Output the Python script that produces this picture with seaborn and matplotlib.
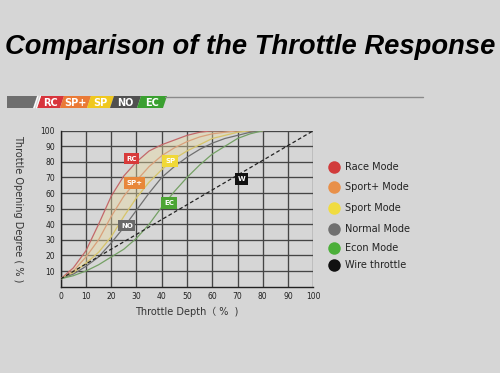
import numpy as np
import pandas as pd
import matplotlib
matplotlib.use("Agg")
import matplotlib.pyplot as plt
from matplotlib.patches import Polygon
import seaborn as sns

# ---------------- data ----------------
throttle_depth = [0, 5, 10, 15, 20, 25, 30, 35, 40, 45, 50, 55, 60, 65, 70, 75, 80]
race = [5, 12, 23, 40, 58, 71, 80, 87, 91, 94, 97, 99, 100, 100, 100, 100, 100]
sport_plus = [5, 10, 19, 30, 45, 58, 68, 77, 84, 89, 93, 96, 98, 99, 100, 100, 100]
sport = [5, 9, 15, 22, 32, 45, 57, 67, 75, 82, 87, 91, 95, 97, 99, 100, 100]
normal = [5, 8, 13, 19, 28, 38, 49, 60, 70, 77, 83, 88, 92, 95, 97, 99, 100]
econ = [5, 7, 10, 14, 19, 24, 31, 40, 51, 61, 70, 78, 85, 90, 95, 98, 100]
wire_x = [0, 100]
wire_y = [5, 100]

modes = ["RC", "SP+", "SP", "NO", "EC"]
mode_curves = [race, sport_plus, sport, normal, econ]
legend_labels = ["Race Mode", "Sport+ Mode", "Sport Mode", "Normal Mode", "Econ Mode", "Wire throttle"]
badge_labels = ["RC", "SP+", "SP", "NO", "EC", "W"]
badge_x = [28, 29.3, 43.3, 26.2, 42.9, 71.6]
badge_y = [82, 66.5, 80.5, 39, 53.6, 69]
x_ticks = [0, 10, 20, 30, 40, 50, 60, 70, 80, 90, 100]
y_ticks = [10, 20, 30, 40, 50, 60, 70, 80, 90, 100]

# ---------------- style ----------------
BG = "#d6d6d6"
line_colors = {"RC": "#c46868", "SP+": "#d9a07a", "SP": "#d6c46a", "NO": "#707070", "EC": "#74a064"}
badge_colors = ["#d83a3a", "#e8873a", "#f0d838", "#6a6a6a", "#4ca534", "#111111"]
legend_colors = ["#d13b3b", "#e8904a", "#f0dc40", "#707070", "#4caf3a", "#111111"]

sns.set_theme(style="white")
plt.rcParams["font.family"] = ["DejaVu Sans", "Noto Sans CJK SC"]

fig = plt.figure(figsize=(5.0, 3.73), dpi=100, facecolor=BG)
ax = fig.add_axes([60.7 / 500, 1 - 286.6 / 373, (313.3 - 60.7) / 500, (286.6 - 130.7) / 373])
ax.set_facecolor(BG)

df = pd.DataFrame({
    "depth": np.tile(throttle_depth, len(modes)),
    "opening": np.concatenate(mode_curves),
    "mode": np.repeat(modes, len(throttle_depth)),
})

ax.fill_between(throttle_depth, race, sport, color="#ecdca0", alpha=0.4, lw=0, zorder=1)
sns.lineplot(data=df, x="depth", y="opening", hue="mode", palette=line_colors,
             linewidth=0.9, legend=False, ax=ax, zorder=3)
sns.lineplot(x=wire_x, y=wire_y, color="#222222", linestyle=(0, (3, 2)), linewidth=0.9,
             ax=ax, zorder=3)

ax.set_xlim(0, 100)
ax.set_ylim(0, 100)
ax.set_xticks(x_ticks)
ax.set_yticks(y_ticks)
ax.grid(True, color="#454545", linewidth=0.95, zorder=0)
ax.set_axisbelow(True)
for s in ["top", "right"]:
    ax.spines[s].set_visible(False)
for s in ["left", "bottom"]:
    ax.spines[s].set_color("#222222")
    ax.spines[s].set_linewidth(1.0)
ax.tick_params(axis="both", labelsize=5.5, colors="#222222", length=2, width=0.6, pad=2)
ax.set_xlabel("Throttle Depth（ %  )", fontsize=7, color="#333333", labelpad=4,
              family=["DejaVu Sans", "Noto Sans CJK SC"])
ax.set_ylabel("Throttle Opening Degree ( % )", fontsize=7, color="#333333",
              rotation=270, labelpad=10)
ax.yaxis.set_label_coords(-0.19, 0.5)

for lab, bx, by, bc in zip(badge_labels, badge_x, badge_y, badge_colors):
    ax.text(bx, by, lab, fontsize=5, color="white", ha="center", va="center",
            fontweight="bold", zorder=5,
            bbox=dict(boxstyle="square,pad=0.38", fc=bc, ec="none"))

# ---------------- overlay (title, header band, legend) ----------------
ov = fig.add_axes([0, 0, 1, 1], facecolor="none")
ov.set_xlim(0, 500)
ov.set_ylim(373, 0)
ov.axis("off")

ov.text(250, 47, "Comparison of the Throttle Response", fontsize=19.7, fontweight="heavy",
        style="italic", ha="center", va="center", color="black", family="Liberation Sans")

# header band
ov.plot([165, 423], [96.5, 96.5], color="#8a8a8a", lw=1.0)
ov.add_patch(Polygon([[7, 96], [37, 96], [33, 108], [7, 108]], closed=True, fc="#6e6e6e", ec="none"))
band_edges = [41, 64, 91, 114, 141, 167]
band_fc = ["#d8343c", "#ea7a36", "#f0c81e", "#505050", "#3aa030"]
band_txt = ["RC", "SP+", "SP", "NO", "EC"]
for i in range(5):
    x0, x1 = band_edges[i], band_edges[i + 1]
    ov.add_patch(Polygon([[x0, 96], [x1, 96], [x1 - 4, 108], [x0 - 4, 108]], closed=True,
                         fc=band_fc[i], ec="none"))
    ov.text((x0 + x1) / 2 - 2, 102.5, band_txt[i], fontsize=7, color="white",
            fontweight="bold", ha="center", va="center")
for sx in [36, 38.5]:
    ov.plot([sx + 2, sx - 2], [96, 108], color="white", lw=0.8)

# legend
leg_y = [167, 187, 208, 229, 248, 265]
for ly, lab, lc in zip(leg_y, legend_labels, legend_colors):
    ov.plot([334], [ly], marker="o", markersize=9, color=lc, mec="none")
    ov.text(345, ly, lab, fontsize=7, color="#222222", ha="left", va="center")

fig.savefig("out.png", dpi=100, facecolor=BG)
